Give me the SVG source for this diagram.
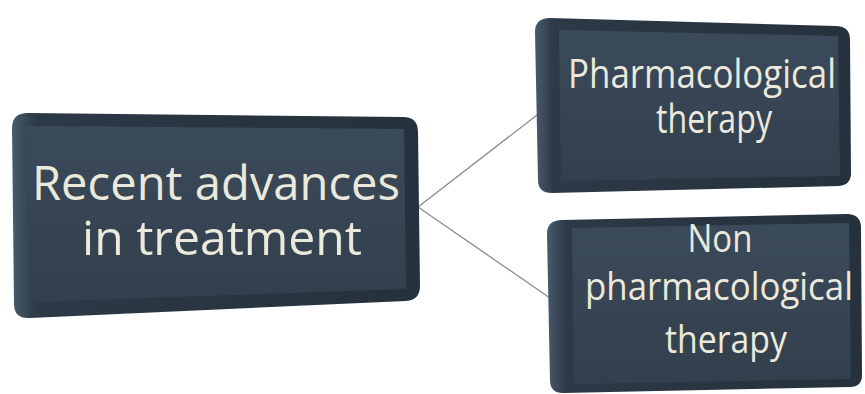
<svg xmlns="http://www.w3.org/2000/svg" width="865" height="394" viewBox="0 0 865 394">
<defs>
<linearGradient id="face" x1="0" y1="0" x2="0" y2="1">
<stop offset="0" stop-color="#3b4a5b"/>
<stop offset="1" stop-color="#323f4c"/>
</linearGradient>
<linearGradient id="body" x1="0" y1="0" x2="1" y2="0">
<stop offset="0" stop-color="#4a5b6c"/>
<stop offset="0.06" stop-color="#2c3946"/>
<stop offset="1" stop-color="#25313c"/>
</linearGradient>
<style>
.body{fill:url(#body);}
.face{fill:url(#face);}
.lbl{font-family:"Open Sans","Noto Sans",sans-serif;fill:#ebe9dc;text-anchor:middle;}
.conn{stroke:#8a8a8a;stroke-width:1.3;fill:none;}
</style>
</defs>
<rect width="865" height="394" fill="#ffffff"/>
<g id="connectors">
<line class="conn" x1="418" y1="207" x2="541" y2="112"/>
<line class="conn" x1="418" y1="207" x2="550" y2="298"/>
</g>
<g id="node-root">
<path class="body" d="M12,128 Q12,113 28,113 L403,117 Q418,117 418,132 L420,286 Q420,300 406,301 L30,318 Q14,319 14,304 Z"/>
<path class="face" d="M27,126 L404,129 L406,289 L30,302 Z"/>
<text class="lbl" font-size="48" x="216" y="200" textLength="368" lengthAdjust="spacingAndGlyphs">Recent advances</text>
<text class="lbl" font-size="48" x="222" y="255" textLength="280" lengthAdjust="spacingAndGlyphs">in treatment</text>
</g>
<g id="node-pharma">
<path class="body" d="M535,32 Q535,18 550,18 L836,26 Q850,26 850,40 L851,173 Q851,185 839,186 L552,193 Q538,193 538,180 Z"/>
<path class="face" d="M559,30 L838,36 L840,176 L561,181 Z"/>
<text class="lbl" font-size="40" x="702" y="88" textLength="268" lengthAdjust="spacingAndGlyphs">Pharmacological</text>
<text class="lbl" font-size="40" x="714" y="133" textLength="116" lengthAdjust="spacingAndGlyphs">therapy</text>
</g>
<g id="node-nonpharma">
<path class="body" d="M547,234 Q547,220 562,220 L847,214 Q861,214 861,228 L862,375 Q862,387 850,387 L563,393 Q550,393 550,380 Z"/>
<path class="face" d="M572,228 L849,223 L851,379 L574,384 Z"/>
<text class="lbl" font-size="39" x="720" y="252" textLength="65" lengthAdjust="spacingAndGlyphs">Non</text>
<text class="lbl" font-size="39" x="719" y="300" textLength="268" lengthAdjust="spacingAndGlyphs">pharmacological</text>
<text class="lbl" font-size="39" x="726" y="353" textLength="122" lengthAdjust="spacingAndGlyphs">therapy</text>
</g>
</svg>
